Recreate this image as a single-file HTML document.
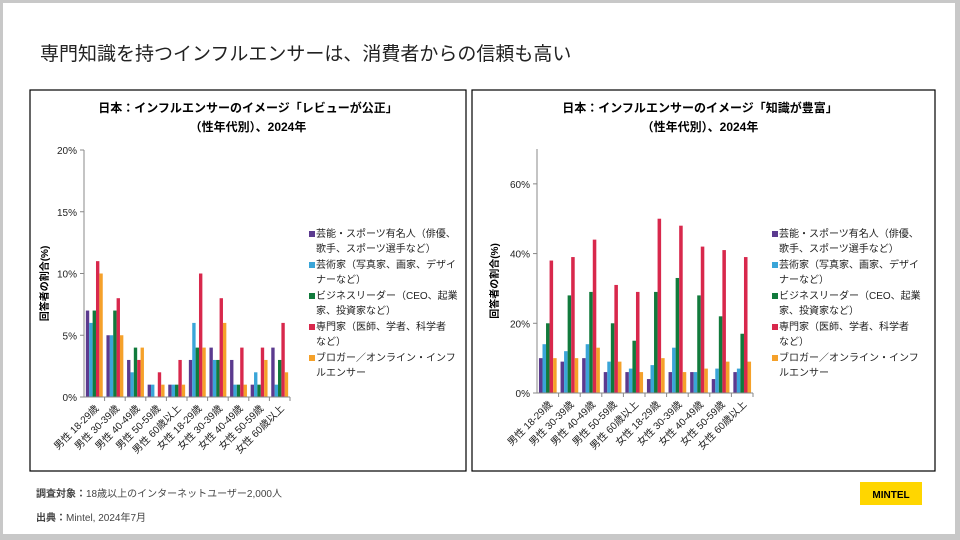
<!DOCTYPE html>
<html><head><meta charset="utf-8"><style>
body{margin:0;width:960px;height:540px;background:#c8c8c8;overflow:hidden;font-family:"Liberation Sans","Noto Sans CJK JP",sans-serif}
#slide{position:absolute;left:3px;top:3px;width:952px;height:531px;background:#fff}
svg text{font-family:"Liberation Sans","Noto Sans CJK JP",sans-serif}
</style></head><body>
<div id="slide"></div>
<svg id="svg" width="960" height="540" style="position:absolute;left:0;top:0">
<text x="40" y="60" font-size="19" fill="#222">専門知識を持つインフルエンサーは、消費者からの信頼も高い</text>
<rect x="30" y="90" width="436" height="381" fill="none" stroke="#000" stroke-width="1.2"/>
<rect x="472" y="90" width="463" height="381" fill="none" stroke="#000" stroke-width="1.2"/>
<text x="248" y="112" font-size="12" font-weight="bold" text-anchor="middle">日本：インフルエンサーのイメージ「レビューが公正」</text>
<text x="248" y="131" font-size="12" font-weight="bold" text-anchor="middle">（性年代別）、2024年</text>
<text x="700" y="112" font-size="12" font-weight="bold" text-anchor="middle">日本：インフルエンサーのイメージ「知識が豊富」</text>
<text x="700" y="131" font-size="12" font-weight="bold" text-anchor="middle">（性年代別）、2024年</text>
<text x="36" y="497" font-size="10" fill="#444"><tspan font-weight="bold">調査対象：</tspan>18歳以上のインターネットユーザー2,000人</text>
<text x="36" y="521" font-size="10" fill="#444"><tspan font-weight="bold">出典：</tspan>Mintel, 2024年7月</text>
<rect x="860" y="482" width="62" height="23" fill="#ffd600"/>
<text x="891" y="498" font-size="10" font-weight="bold" text-anchor="middle">MINTEL</text>
</svg>
<script>
const categories=["男性 18-29歳","男性 30-39歳","男性 40-49歳","男性 50-59歳","男性 60歳以上","女性 18-29歳","女性 30-39歳","女性 40-49歳","女性 50-59歳","女性 60歳以上"];
const seriesNames=[["芸能・スポーツ有名人（俳優、","歌手、スポーツ選手など）"],["芸術家（写真家、画家、デザイ","ナーなど）"],["ビジネスリーダー（CEO、起業","家、投資家など）"],["専門家（医師、学者、科学者","など）"],["ブロガー／オンライン・インフ","ルエンサー"]];
const colors=["#5b3a8f","#3aa5d8","#117a3c","#d8284c","#f5a12a"];
const leftPurple=[7,5,3,1,1,3,4,3,1,4];
const leftBlue=[6,5,2,1,1,6,3,1,2,1];
const leftGreen=[7,7,4,0,1,4,3,1,1,3];
const leftRed=[11,8,3,2,3,10,8,4,4,6];
const leftOrange=[10,5,4,1,1,4,6,1,3,2];
const leftTicks=[0,5,10,15,20];
const rightPurple=[10,9,10,6,6,4,6,6,4,6];
const rightBlue=[14,12,14,9,7,8,13,6,7,7];
const rightGreen=[20,28,29,20,15,29,33,28,22,17];
const rightRed=[38,39,44,31,29,50,48,42,41,39];
const rightOrange=[10,10,13,9,6,10,6,7,9,9];
const rightTicks=[0,20,40,60];
const NS="http://www.w3.org/2000/svg";
const svg=document.getElementById('svg');
function mk(tag,attrs,parent){const e=document.createElementNS(NS,tag);for(const k in attrs)e.setAttribute(k,attrs[k]);(parent||svg).appendChild(e);return e;}
function chart(cfg){
 const g=mk('g',{});
 
 
 const y=v=>cfg.y0-(v/cfg.max)*(cfg.y0-cfg.yTop);
 const cw=(cfg.x1-cfg.x0)/categories.length;
 const bw=cw*0.82/5;
 cfg.series.forEach((s,si)=>{s.forEach((v,ci)=>{
  const bx=cfg.x0+ci*cw+cw*0.09+si*bw;
  const r=mk('rect',{x:bx,y:y(v),width:bw,height:y(0)-y(v),fill:colors[si]},g);
  
  
 });});
 const ax=mk('line',{x1:cfg.x0,x2:cfg.x0,y1:cfg.yTop,y2:cfg.y0,stroke:'#888'},g);
 
 
 const bx=mk('line',{x1:cfg.x0,x2:cfg.x1,y1:cfg.y0,y2:cfg.y0,stroke:'#888'},g);
 
 
 cfg.ticks.forEach(t=>{
  mk('line',{x1:cfg.x0-4,x2:cfg.x0,y1:y(t),y2:y(t),stroke:'#888'},g);
  const tx=mk('text',{x:cfg.x0-7,y:y(t)+4,'font-size':10,'text-anchor':'end',fill:'#222'},g);
  tx.textContent=t+'%';
  
  
 });
 categories.forEach((c,ci)=>{
  const cx=cfg.x0+ci*cw+cw/2;
  mk('line',{x1:cfg.x0+(ci+1)*cw,x2:cfg.x0+(ci+1)*cw,y1:cfg.y0,y2:cfg.y0+4,stroke:'#888'},g);
  const tx=mk('text',{x:cx+5,y:cfg.y0+12,'font-size':10,'text-anchor':'end',fill:'#222',transform:`rotate(-45 ${cx+5} ${cfg.y0+12})`},g);
  tx.textContent=c;
  
  
 });
 const yt=mk('text',{x:0,y:0,'font-size':10,'font-weight':'bold','text-anchor':'middle',transform:`translate(${cfg.ytX} ${(cfg.y0+cfg.yTop)/2+10}) rotate(-90)`},g);
 yt.textContent='回答者の割合(%)';
 
 
 seriesNames.forEach((n,si)=>{
  const ly=cfg.legY+si*31;
  const sw=mk('rect',{x:cfg.legX,y:ly-6,width:6,height:6,fill:colors[si]},g);
  
  
  const t=mk('text',{x:cfg.legX+7,y:ly,'font-size':10,fill:'#222'},g);
  
  
  const a=mk('tspan',{x:cfg.legX+7,y:ly},t);a.textContent=n[0];
  const b=mk('tspan',{x:cfg.legX+7,y:ly+15},t);b.textContent=n[1];
 });
}
chart({name:'left-chart',key:'left',x0:84,x1:290,y0:397,yTop:150,max:20,ticks:leftTicks,series:[leftPurple,leftBlue,leftGreen,leftRed,leftOrange],ytX:48,legX:309,legY:237});
chart({name:'right-chart',key:'right',x0:537,x1:753,y0:393,yTop:149,max:70,ticks:rightTicks,series:[rightPurple,rightBlue,rightGreen,rightRed,rightOrange],ytX:498,legX:772,legY:237});
</script>
</body></html>
